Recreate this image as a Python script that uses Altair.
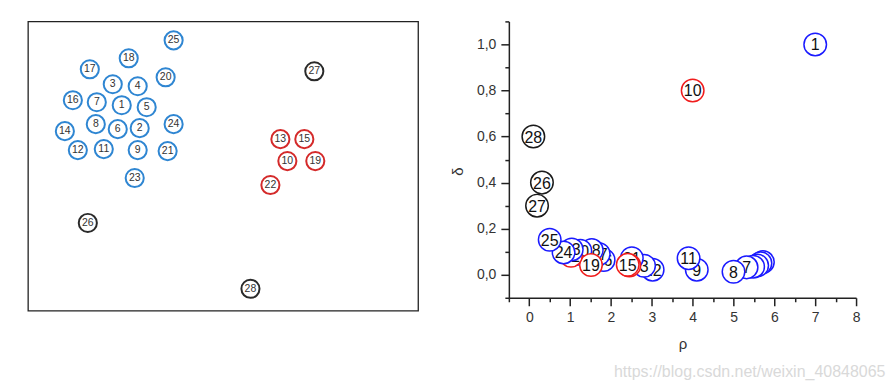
import altair as alt
import pandas as pd

# ---------------- left panel: raw data points (positions) ----
l_labels = ["25", "18", "17", "20", "3", "4", "16", "7", "1", "5", "24", "14", "8", "6",
            "2", "12", "11", "9", "21", "23", "27", "13", "15", "10", "19", "22", "26", "28"]
l_x = [146, 101, 62, 138, 85, 110, 45, 69, 94, 119, 146, 37, 68, 90,
       112, 50, 76, 110, 140, 107, 287, 253, 277, 260, 288, 243, 60, 223]
l_y = [19, 37, 48, 56, 63, 65, 79, 81, 84, 86, 103, 110, 103, 108,
       107, 129, 128, 129, 130, 157, 50, 118, 118, 140, 140, 164, 202, 268]
l_group = ["b"] * 20 + ["k", "r", "r", "r", "r", "r", "k", "k"]

# ---------------- right panel: decision graph (drawing order = list order) ------
r_labels = ["1", "2", "4", "5", "6", "7", "8", "9", "10", "11", "12", "3", "21", "13",
            "15", "16", "17", "18", "14", "20", "19", "22", "23", "24", "25", "26", "27", "28"]
r_rho = [7.0, 5.72, 5.66, 5.58, 5.48, 5.32, 5.0, 4.1, 4.0, 3.9, 3.02, 2.81, 2.51, 2.45,
         2.41, 1.82, 1.70, 1.53, 1.15, 1.25, 1.51, 1.02, 1.04, 0.84, 0.50, 0.31, 0.19, 0.10]
r_delta = [1.0, 0.055, 0.05, 0.04, 0.035, 0.032, 0.013, 0.022, 0.8, 0.072, 0.022, 0.039, 0.072, 0.04,
           0.043, 0.064, 0.09, 0.107, 0.09, 0.104, 0.042, 0.082, 0.11, 0.097, 0.152, 0.40, 0.30, 0.60]
r_group = ["b", "b", "b", "b", "b", "b", "b", "b", "r", "b", "b", "b", "b", "r",
           "r", "b", "b", "b", "b", "b", "r", "r", "b", "b", "b", "k", "k", "k"]

x_ticks = [-0.5, 0, 0.5, 1, 1.5, 2, 2.5, 3, 3.5, 4, 4.5, 5, 5.5, 6, 6.5, 7, 7.5, 8]
y_ticks = [-0.1, 0.0, 0.1, 0.2, 0.3, 0.4, 0.5, 0.6, 0.7, 0.8, 0.9, 1.0, 1.1]

FONT = "Liberation Sans"

left_df = pd.DataFrame({"x": l_x, "y": l_y, "label": l_labels, "g": l_group})
right_df = pd.DataFrame({"rho": r_rho, "delta": r_delta, "label": r_labels,
                         "g": r_group, "i": list(range(len(r_labels)))})

# ---------------- left chart ----------------
lx = alt.X("x:Q", scale=alt.Scale(domain=[0, 391], nice=False, zero=False), axis=None)
ly = alt.Y("y:Q", scale=alt.Scale(domain=[0, 290], nice=False, zero=False, reverse=True), axis=None)
lstroke = alt.Stroke("g:N", scale=alt.Scale(domain=["b", "r", "k"],
                                            range=["#2f86d2", "#d42a2a", "#2a2a2a"]), legend=None)

left_c = alt.Chart(left_df).mark_circle(size=330, fill="white", opacity=1, strokeWidth=2).encode(
    x=lx, y=ly, stroke=lstroke)
left_t = alt.Chart(left_df).mark_text(font=FONT, fontSize=10.5, color="#333").encode(
    x=lx, y=ly, text="label:N")
left = alt.layer(left_c, left_t).properties(
    width=391, height=290,
    view=alt.ViewBackground(stroke="#222", strokeWidth=1.3, strokeOpacity=1))

# ---------------- right chart ----------------
rx = alt.X("rho:Q", scale=alt.Scale(domain=[-0.5, 8], nice=False, zero=False),
           axis=alt.Axis(values=x_ticks, grid=False, title="ρ",
                         labelExpr="datum.value % 1 == 0 ? format(datum.value, 'd') : ''",
                         tickSize={"condition": {"test": "datum.value % 1 == 0", "value": 8}, "value": 4},
                         tickWidth=1.5, tickColor="#222", domainColor="#222", domainWidth=1.5,
                         labelFont=FONT, labelFontSize=14, labelColor="#333", labelPadding=5,
                         labelOverlap=False, labelFlush=False,
                         titleFont=FONT, titleFontSize=15, titleFontWeight="normal",
                         titleColor="#333", titlePadding=12))
ry = alt.Y("delta:Q", scale=alt.Scale(domain=[-0.1, 1.1], nice=False, zero=False),
           axis=alt.Axis(values=y_ticks, grid=False, title="δ",
                         labelExpr="abs(round(datum.value*10)) % 2 == 0 ? replace(format(datum.value, '.1f'), '.', ',') : ''",
                         tickSize={"condition": {"test": "abs(round(datum.value*10)) % 2 == 0", "value": 8}, "value": 4},
                         tickWidth=1.5, tickColor="#222", domainColor="#222", domainWidth=1.5,
                         labelFont=FONT, labelFontSize=14, labelColor="#333", labelPadding=5,
                         labelOverlap=False, labelFlush=False,
                         titleFont=FONT, titleFontSize=15, titleFontWeight="normal",
                         titleColor="#333", titleAngle=270, titleX=-51, titleY=150,
                         titleAlign="center", titleBaseline="middle"))
rstroke = alt.Stroke("g:N", scale=alt.Scale(domain=["b", "r", "k"],
                                            range=["#1a1aff", "#f01c1c", "#1a1a1a"]), legend=None)

base = alt.Chart(right_df)
layers = []
for i in range(len(r_labels)):
    sub = base.transform_filter(alt.datum.i == i)
    layers.append(sub.mark_circle(size=510, fill="white", opacity=1, strokeWidth=1.5).encode(
        x=rx, y=ry, stroke=rstroke))
    layers.append(sub.mark_text(font=FONT, fontSize=16, color="#111", dy=1).encode(
        x=rx, y=ry, text="label:N"))
right = alt.layer(*layers).properties(width=348, height=277)

chart = alt.hconcat(left, right, spacing=91, bounds="flush").resolve_scale(
    stroke="independent"
).properties(
    padding={"left": 19, "top": 5, "right": 0, "bottom": 0},
    title=alt.TitleParams(text="https://blog.csdn.net/weixin_40848065", orient="bottom",
                          anchor="end", dx=25, offset=12, fontSize=16, font=FONT,
                          fontWeight="normal", color="#d9d9d9"),
).configure_view(stroke="transparent")

chart.save("out.html", embed_options={"renderer": "svg", "actions": False})
